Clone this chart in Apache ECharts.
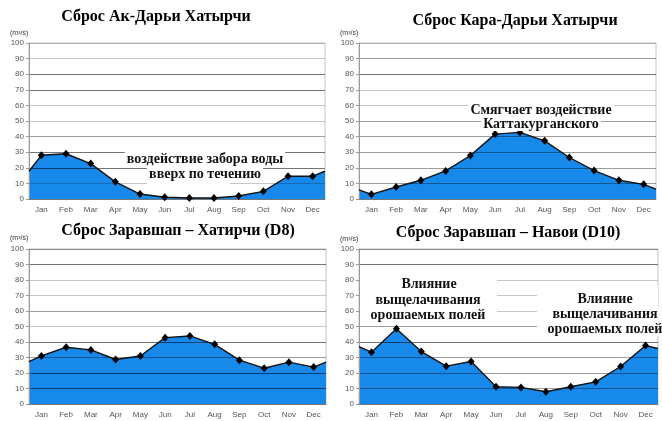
<!DOCTYPE html>
<html>
<head>
<meta charset="utf-8">
<script src="https://cdn.jsdelivr.net/npm/echarts@6/dist/echarts.min.js"></script>
<style>
  html, body { margin: 0; padding: 0; background: #fff; }
  #chart { width: 662px; height: 421px; }
</style>
</head>
<body>
<div id="chart"></div>
<script>
// Monthly discharge (m³/s) at four gauging points of the Zeravshan basin
const months = ['Jan', 'Feb', 'Mar', 'Apr', 'May', 'Jun', 'Jul', 'Aug', 'Sep', 'Oct', 'Nov', 'Dec'];

const akDaryaFlow = [28, 29, 22.7, 11, 3.2, 1.1, 0.6, 0.6, 1.9, 4.9, 14.6, 14.6];
const akDaryaEdges = [17.8, 17.8];          // values at the left / right border of the plot

const karaDaryaFlow = [3, 7.7, 12, 18, 27.9, 41.6, 42.7, 37.3, 26.6, 18.2, 12, 9.4];
const karaDaryaEdges = [5.8, 6.3];

const khatirchiFlow = [31, 36.6, 34.9, 28.7, 31, 42.8, 43.9, 38.5, 28.3, 23.1, 27, 23.8];
const khatirchiEdges = [27.4, 27];

const navoiFlow = [33.4, 48.6, 33.8, 24.4, 27.4, 11.1, 10.7, 7.9, 11.1, 14.3, 24.2, 37.7];
const navoiEdges = [37, 35.8];

const panelTitles = [
  'Сброс Ак-Дарьи Хатырчи',
  'Сброс Кара-Дарьи Хатырчи',
  'Сброс Заравшап – Хатирчи (D8)',
  'Сброс Заравшап – Навои (D10)'
];
const unitLabel = '(m³/s)';
const yMin = 0, yMax = 100, yStep = 10;

const panelData = [
  [akDaryaFlow, akDaryaEdges],
  [karaDaryaFlow, karaDaryaEdges],
  [khatirchiFlow, khatirchiEdges],
  [navoiFlow, navoiEdges]
];

// ---- layout & styling ----
const gridBoxes = [
  { left: 29,  top: 43,  width: 296, height: 156 },
  { left: 359, top: 43,  width: 297, height: 156 },
  { left: 29,  top: 249, width: 297, height: 155 },
  { left: 359, top: 249, width: 299, height: 155 }
];
const titlePos = [[156, 17], [515, 21], [178, 231], [508, 233]];
const unitPos = [[10, 33], [340, 33], [10, 238], [340, 239]];

const D = 'rgba(0,0,0,0.55)', M = 'rgba(0,0,0,0.38)', L = 'rgba(0,0,0,0.22)';
// grid line shades for 10..100
const gridShades = [
  [L, D, D, M, L, L, D, D, L, L],
  [M, M, M, M, M, L, L, D, M, L],
  [D, D, M, D, L, M, L, L, D, M],
  [M, M, M, D, M, L, L, L, D, M]
];

const AREA_BLUE = '#1789ea';
const serif = '"Liberation Serif", "DejaVu Serif", serif';
const sans = '"Liberation Sans", Arial, sans-serif';

const grid = [], xAxis = [], yAxis = [], series = [], graphic = [];

panelData.forEach(([values, edges], p) => {
  const g = gridBoxes[p];
  grid.push(Object.assign({
    show: true, borderColor: '#c4c4c4', borderWidth: 1, backgroundColor: 'transparent'
  }, g));

  // visible month axis: ticks on category borders, labels centred
  xAxis.push({
    type: 'category', gridIndex: p, data: months, boundaryGap: true, z: 3,
    axisLine: { lineStyle: { color: '#777', width: 1 } },
    axisTick: { interval: 0, length: 3, lineStyle: { color: '#777' } },
    axisLabel: { interval: 0, margin: 7, fontSize: 8, color: '#555', fontFamily: sans },
    splitLine: { show: false }
  });
  // hidden numeric axis carrying the series (0..12 spans the twelve month slots)
  xAxis.push({
    type: 'value', gridIndex: p, min: 0, max: 12, show: false
  });

  yAxis.push({
    type: 'value', gridIndex: p, min: yMin, max: yMax, interval: yStep, z: 3,
    axisLine: { show: true, lineStyle: { color: '#999' } },
    axisTick: { show: true, length: 3, lineStyle: { color: '#999' } },
    axisLabel: { fontSize: 8, color: '#555', margin: 5, fontFamily: sans },
    splitLine: { show: true, showMinLine: false, lineStyle: { color: gridShades[p], width: 1 } }
  });

  const pts = [[0, edges[0]]];
  values.forEach((v, i) => pts.push([i + 0.5, v]));
  pts.push([12, edges[1]]);

  series.push({
    type: 'line', xAxisIndex: p * 2 + 1, yAxisIndex: p, z: 1,
    data: pts, symbol: 'none', silent: true, animation: false,
    lineStyle: { width: 0 },
    areaStyle: { color: AREA_BLUE, opacity: 1 }
  });
  series.push({
    type: 'line', xAxisIndex: p * 2 + 1, yAxisIndex: p, z: 8,
    data: pts.map((pt, i) => (i === 0 || i === pts.length - 1)
      ? { value: pt, symbol: 'none' } : { value: pt }),
    symbol: 'diamond', symbolSize: [7, 8], showAllSymbol: true, animation: false,
    itemStyle: { color: '#000' },
    lineStyle: { color: '#111', width: 1.4 }
  });

  graphic.push({
    type: 'text', x: titlePos[p][0], y: titlePos[p][1], z: 10,
    style: {
      text: panelTitles[p], fill: '#000', align: 'center', verticalAlign: 'middle',
      font: 'bold 16px ' + serif
    }
  });
  graphic.push({
    type: 'text', x: unitPos[p][0], y: unitPos[p][1], z: 10,
    style: {
      text: unitLabel, fill: '#333', align: 'left', verticalAlign: 'middle',
      font: '7px ' + sans
    }
  });
});

// white panels behind the annotations
const whiteBoxes = [
  { x: 147, y: 160, width: 83, height: 28 },
  { x: 360, y: 272, width: 137, height: 50 },
  { x: 537, y: 285, width: 121, height: 50 }
];
whiteBoxes.forEach(b => graphic.push({
  type: 'rect', shape: b, z: 5, silent: true, style: { fill: '#fff' }
}));

const notes = [
  ['воздействие забора воды', 205, 159],
  ['вверх по течению', 205, 174],
  ['Смягчает воздействие', 541, 110],
  ['Каттакурганского', 541, 124],
  ['Влияние', 429, 284],
  ['выщелачивания', 428, 300],
  ['орошаемых полей', 428, 315],
  ['Влияние', 605, 299],
  ['выщелачивания', 605, 314],
  ['орошаемых полей', 605, 329]
];
notes.forEach(([t, x, y]) => graphic.push({
  type: 'text', x, y, z: 12,
  style: {
    text: t, fill: '#111', align: 'center', verticalAlign: 'middle',
    font: 'bold 14px ' + serif, backgroundColor: '#fff', padding: [0, 2]
  }
}));

const chart = echarts.init(document.getElementById('chart'), null, { renderer: 'canvas' });
chart.setOption({
  animation: false,
  backgroundColor: '#fff',
  grid, xAxis, yAxis, series, graphic
});
</script>
</body>
</html>
